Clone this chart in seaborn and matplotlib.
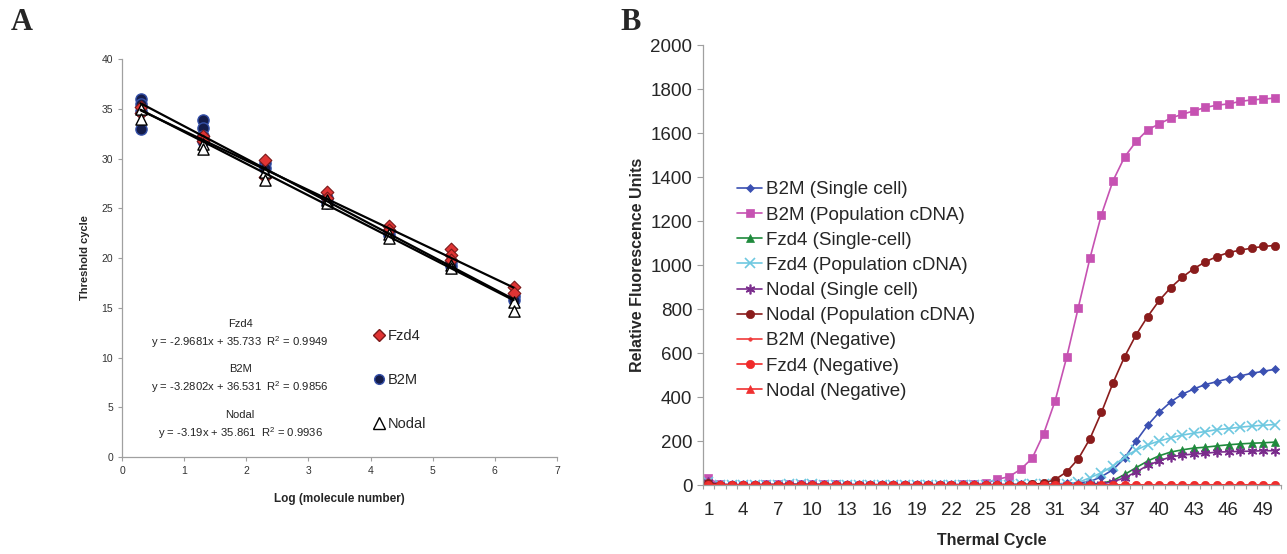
import matplotlib.pyplot as plt
import pandas as pd
import seaborn as sns
from matplotlib.lines import Line2D

# =========================================
# PANEL A DATA (standard curves)
# =========================================

genes_a = ["Fzd4", "B2M", "Nodal"]
slopes = [-2.9681, -3.2802, -3.19]
intercepts = [35.733, 36.531, 35.861]
r_squared = [0.9949, 0.9856, 0.9936]

b2m_x = [0.3, 0.3, 0.3, 0.3, 1.3, 1.3, 1.3, 1.3, 2.3, 2.3, 3.3, 3.3, 4.3, 4.3, 5.3, 5.3, 6.3, 6.3]
b2m_y = [36.0, 35.5, 34.8, 33.0, 33.9, 33.1, 32.3, 31.8, 29.5, 29.0, 26.0, 25.5, 22.7, 22.3, 19.6, 19.2, 16.2, 15.8]

fzd4_x = [0.3, 0.3, 1.3, 1.3, 2.3, 2.3, 3.3, 3.3, 4.3, 4.3, 5.3, 5.3, 5.3, 6.3, 6.3]
fzd4_y = [35.2, 34.6, 32.3, 31.8, 29.9, 28.1, 26.6, 26.0, 23.2, 22.8, 20.9, 20.3, 19.8, 17.1, 16.5]

nodal_x = [0.3, 0.3, 1.3, 1.3, 2.3, 2.3, 3.3, 3.3, 4.3, 4.3, 5.3, 5.3, 6.3, 6.3]
nodal_y = [35.0, 34.0, 31.5, 31.0, 28.6, 27.8, 25.8, 25.5, 22.4, 22.0, 19.3, 19.0, 15.6, 14.7]

# =========================================
# PANEL B DATA (amplification curves)
# =========================================

cycles = list(range(1, 51))
cycle_tick_labels = [1, 4, 7, 10, 13, 16, 19, 22, 25, 28, 31, 34, 37, 40, 43, 46, 49]

b2m_single = [5, 2, 1, 1, 1, 2, 2, 3, 3, 3, 2, 2, 2, 2, 1, 1, 1, 1, 1, 1,
              1, 1, 1, 1, 2, 2, 2, 3, 3, 4, 5, 7, 10, 15, 38, 70, 122, 200, 272, 331,
              378, 413, 437, 457, 470, 484, 496, 508, 517, 526]
b2m_pop = [30, 3, 2, 2, 2, 3, 3, 3, 3, 3, 3, 3, 2, 2, 2, 2, 2, 2, 2, 2,
           2, 2, 3, 4, 8, 26, 38, 71, 121, 233, 384, 582, 807, 1030, 1229, 1383, 1491, 1562, 1615, 1642,
           1668, 1686, 1701, 1717, 1727, 1733, 1744, 1751, 1755, 1759]
fzd4_single = [4, 1, 1, 1, 1, 1, 1, 2, 2, 2, 1, 1, 1, 1, 1, 1, 1, 1, 1, 1,
               1, 1, 1, 1, 1, 1, 1, 1, 2, 2, 2, 2, 3, 4, 8, 20, 48, 79, 109, 133,
               150, 160, 168, 172, 178, 183, 187, 190, 192, 195]
fzd4_pop = [12, 2, 2, 2, 2, 2, 2, 3, 3, 3, 2, 2, 2, 2, 2, 2, 2, 2, 2, 2,
            2, 2, 2, 2, 2, 2, 2, 3, 3, 3, 4, 6, 12, 33, 56, 86, 127, 159, 183, 200,
            215, 227, 236, 243, 252, 257, 263, 268, 272, 275]
nodal_single = [15, 2, 1, 1, 1, 1, 1, 2, 2, 2, 1, 1, 1, 1, 1, 1, 1, 1, 1, 1,
                1, 1, 1, 1, 1, 1, 1, 1, 1, 2, 2, 2, 2, 3, 5, 15, 33, 59, 89, 110,
                128, 136, 141, 144, 150, 151, 153, 154, 156, 156]
nodal_pop = [10, 2, 1, 1, 1, 2, 2, 2, 2, 2, 2, 1, 1, 1, 1, 1, 1, 1, 1, 1,
             1, 1, 1, 1, 1, 1, 2, 2, 3, 8, 25, 60, 119, 210, 330, 464, 583, 683, 766, 839,
             898, 945, 984, 1015, 1039, 1057, 1068, 1077, 1085, 1089]
b2m_neg = [2, 1, 1, 1, 1, 1, 1, 1, 1, 1, 1, 1, 1, 1, 1, 1, 1, 1, 1, 1,
           1, 1, 1, 1, 1, 1, 1, 1, 1, 1, 1, 1, 1, 1, 1, 1, 1, 1, 1, 1,
           1, 1, 1, 1, 1, 1, 1, 1, 1, 1]
fzd4_neg = [1, 0, 0, 0, 0, 0, 0, 0, 0, 0, 0, 0, 0, 0, 0, 0, 0, 0, 0, 0,
            0, 0, 0, 0, 0, 0, 0, 0, 0, 0, 0, 0, 0, 0, 0, 0, 0, 0, 0, 0,
            0, 0, 0, 0, 0, 0, 0, 0, 0, 0]
nodal_neg = [1, 0, 0, 0, 0, 0, 0, 0, 0, 0, 0, 0, 0, 0, 0, 0, 0, 0, 0, 0,
             0, 0, 0, 0, 0, 0, 0, 0, 0, 0, 0, 0, 0, 0, 0, 0, 0, 0, 0, 0,
             0, 0, 0, 0, 0, 0, 0, 0, 0, 0]

series_names = [
    "B2M (Single cell)", "B2M (Population cDNA)", "Fzd4 (Single-cell)",
    "Fzd4 (Population cDNA)", "Nodal (Single cell)", "Nodal (Population cDNA)",
    "B2M (Negative)", "Fzd4 (Negative)", "Nodal (Negative)",
]
series_values = [b2m_single, b2m_pop, fzd4_single, fzd4_pop, nodal_single,
                 nodal_pop, b2m_neg, fzd4_neg, nodal_neg]
series_colors = ["#3b50b2", "#c652b2", "#1f8a3c", "#6ec8e0", "#7a2c8c",
                 "#8a1c1c", "#f03a3a", "#f02a2a", "#f03030"]
series_markers = ["D", "s", "^", "x", (6, 2, 0), "o", ".", "o", "^"]
series_msize = [4.5, 6, 6, 6.5, 7, 6, 5, 6, 5.5]

# =========================================
# STYLE
# =========================================

sns.set_theme(style="white")
plt.rcParams["font.family"] = ["Liberation Sans", "DejaVu Sans"]
plt.rcParams["mathtext.default"] = "regular"

fig = plt.figure(figsize=(12.87, 5.54), dpi=100)
ax_a = fig.add_axes([0.0948, 0.175, 0.338, 0.7185])
ax_b = fig.add_axes([0.546, 0.1245, 0.449, 0.794])

spine_color = "#a0a0a0"

# =========================================
# PANEL A
# =========================================

sns.scatterplot(x=b2m_x, y=b2m_y, ax=ax_a, marker="o", s=65,
                color="#141c4a", edgecolor="#3550a8", linewidth=1, zorder=2)
sns.scatterplot(x=fzd4_x, y=fzd4_y, ax=ax_a, marker="D", s=42,
                color="#e03434", edgecolor="#7a1a1a", linewidth=0.8, zorder=3)
sns.scatterplot(x=nodal_x, y=nodal_y, ax=ax_a, marker="^", s=65,
                color="white", edgecolor="black", linewidth=1, zorder=3)

x_lo = min(b2m_x)
x_hi = max(b2m_x)
for slope, intercept in zip(slopes, intercepts):
    sns.lineplot(x=[x_lo, x_hi],
                 y=[slope * x_lo + intercept, slope * x_hi + intercept],
                 ax=ax_a, color="black", linewidth=1.6, zorder=4)

eq_y = [11.6, 7.0, 2.4]
for gene, slope, intercept, r2, yy in zip(genes_a, slopes, intercepts, r_squared, eq_y):
    ax_a.text(1.9, yy + 1.8, gene, ha="center", va="center", fontsize=8, color="#222")
    ax_a.text(1.9, yy, f"y = {slope}x + {intercept}  R$^2$ = {r2}",
              ha="center", va="center", fontsize=8.1, color="#222")

handles_a = [
    Line2D([], [], marker="D", linestyle="", color="#e03434", markeredgecolor="#7a1a1a", markersize=6),
    Line2D([], [], marker="o", linestyle="", color="#141c4a", markeredgecolor="#3550a8", markersize=7),
    Line2D([], [], marker="^", linestyle="", color="white", markeredgecolor="black", markersize=8),
]
ax_a.legend(handles_a, genes_a, loc="upper left", bbox_to_anchor=(0.56, 0.34),
            frameon=False, fontsize=10.5, handlelength=0.8, handletextpad=0.25,
            labelspacing=2.05, borderpad=0)

ax_a.set_xlim(0, 7)
ax_a.set_ylim(0, 40)
ax_a.set_xticks(range(0, 8))
ax_a.set_yticks(range(0, 45, 5))
ax_a.tick_params(axis="both", labelsize=7.5, labelcolor="#333", length=3,
                 width=0.8, color=spine_color, direction="out", left=True, bottom=True)
ax_a.set_xlabel("Log (molecule number)", fontsize=8.5, fontweight="bold", labelpad=12)
ax_a.set_ylabel("Threshold cycle", fontsize=8, fontweight="bold", labelpad=8)

# =========================================
# PANEL B
# =========================================

for name, vals, col, mk, ms in zip(series_names, series_values, series_colors,
                                   series_markers, series_msize):
    sns.lineplot(x=cycles, y=vals, ax=ax_b, color=col, marker=mk, markersize=ms,
                 markeredgecolor=col, markeredgewidth=1.2 if mk in ["x", (6, 2, 0)] else 0.5,
                 linewidth=1.2, label=name)

ax_b.legend(loc="upper left", bbox_to_anchor=(0.043, 0.712), frameon=False,
            fontsize=13.5, handlelength=1.35, handletextpad=0.2, labelspacing=0.43,
            borderpad=0)

ax_b.set_xlim(0.5, 50.5)
ax_b.set_ylim(0, 2000)
ax_b.set_yticks(range(0, 2001, 200))
ax_b.set_xticks(cycle_tick_labels)
ax_b.set_xticks([c - 0.5 for c in cycles] + [50.5], minor=True)
ax_b.tick_params(axis="x", which="major", length=0, labelsize=13.5, pad=12)
ax_b.tick_params(axis="x", which="minor", length=3, width=0.8, color=spine_color,
                 direction="out", bottom=True)
ax_b.tick_params(axis="y", labelsize=13.5, length=4, width=0.8, color=spine_color,
                 direction="out", left=True)
ax_b.set_xlabel("Thermal Cycle", fontsize=11.5, fontweight="bold", labelpad=10)
ax_b.set_ylabel("Relative Fluorescence Units", fontsize=11.5, fontweight="bold", labelpad=4)

for ax in [ax_a, ax_b]:
    sns.despine(ax=ax)
    ax.spines["left"].set_color(spine_color)
    ax.spines["bottom"].set_color(spine_color)
    ax.spines["left"].set_linewidth(0.9)
    ax.spines["bottom"].set_linewidth(0.9)

fig.text(0.008, 0.985, "A", fontsize=22, fontweight="bold", family="Liberation Serif", va="top")
fig.text(0.482, 0.985, "B", fontsize=22, fontweight="bold", family="Liberation Serif", va="top")

fig.savefig("out.png", dpi=100)
